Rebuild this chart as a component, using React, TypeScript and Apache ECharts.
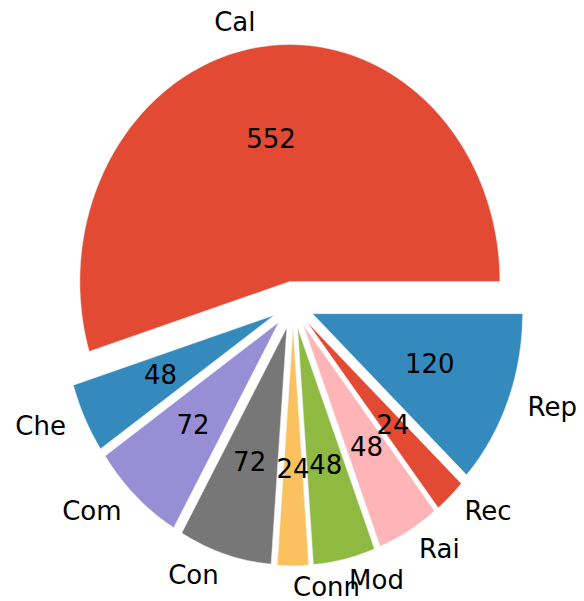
import React, { useEffect, useRef } from 'react';
import * as echarts from 'echarts';

const categories = ['Cal', 'Che', 'Com', 'Con', 'Conn', 'Mod', 'Rai', 'Rec', 'Rep'];
const counts = [552, 48, 72, 72, 24, 48, 48, 24, 120];
const explode = [0.1, 0.1, 0.1, 0.1, 0.1, 0.1, 0.1, 0.1, 0.1];
const palette = ['#E24A33', '#348ABD', '#988ED5', '#777777', '#FBC15E', '#8EBA42', '#FFB5B8', '#E24A33', '#348ABD'];

const CX = 293;
const CY = 305;
const RX = 210;
const RY = 237;
const LABEL_DIST = 1.1;
const PCT_DIST = 0.6;
const FONT = 'DejaVu Sans';
const FONT_SIZE = 26;
const TEXT_DY = -2;

export default function App() {
  const ref = useRef<HTMLDivElement>(null);
  useEffect(() => {
    if (!ref.current) return;
    const chart = echarts.init(ref.current, undefined, { renderer: 'svg' });
    const total = counts.reduce((a, b) => a + b, 0);
    const toPx = (x: number, y: number) => [CX + x * RX, CY - y * RY];
    chart.setOption({
      animation: false,
      series: [
        {
          type: 'custom',
          coordinateSystem: 'none',
          data: counts.map((v, i) => [i, v]),
          renderItem: (params: any, api: any) => {
            const i = params.dataIndex;
            const v = api.value(1) as number;
            let before = 0;
            for (let k = 0; k < i; k++) before += counts[k];
            const t1 = (2 * Math.PI * before) / total;
            const t2 = (2 * Math.PI * (before + v)) / total;
            const tm = (t1 + t2) / 2;
            const ex = explode[i];
            const ox = ex * Math.cos(tm);
            const oy = ex * Math.sin(tm);
            const pts: number[][] = [toPx(ox, oy)];
            const n = Math.max(8, Math.ceil(((t2 - t1) * 180) / Math.PI));
            for (let k = 0; k <= n; k++) {
              const t = t1 + ((t2 - t1) * k) / n;
              pts.push(toPx(ox + Math.cos(t), oy + Math.sin(t)));
            }
            const xt = ox + LABEL_DIST * Math.cos(tm);
            const yt = oy + LABEL_DIST * Math.sin(tm);
            const [lx, ly] = toPx(xt, yt);
            const [vx, vy] = toPx(ox + PCT_DIST * Math.cos(tm), oy + PCT_DIST * Math.sin(tm));
            return {
              type: 'group',
              children: [
                {
                  type: 'polygon',
                  shape: { points: pts },
                  style: { fill: palette[i], stroke: '#EEEEEE', lineWidth: 0.5 },
                },
                {
                  type: 'text',
                  x: lx,
                  y: ly + TEXT_DY,
                  z2: 10,
                  style: {
                    text: categories[i],
                    fill: '#000000',
                    fontFamily: FONT,
                    fontSize: FONT_SIZE,
                    align: xt > -1e-9 ? 'left' : 'right',
                    verticalAlign: 'middle',
                  },
                },
                {
                  type: 'text',
                  x: vx,
                  y: vy + TEXT_DY,
                  z2: 10,
                  style: {
                    text: String(v),
                    fill: '#000000',
                    fontFamily: FONT,
                    fontSize: FONT_SIZE,
                    align: 'center',
                    verticalAlign: 'middle',
                  },
                },
              ],
            };
          },
        },
      ],
    });
    return () => chart.dispose();
  }, []);
  return (
    <div
      ref={ref}
      style={{ position: 'absolute', left: 0, top: 0, width: 584, height: 601, background: '#ffffff' }}
    />
  );
}
